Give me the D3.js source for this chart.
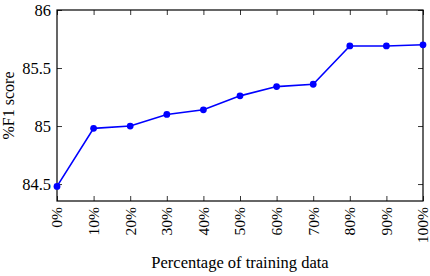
<!DOCTYPE html>
<html>
<head>
<meta charset="utf-8">
<script src="https://cdn.jsdelivr.net/npm/d3@7"></script>
<style>
  html, body { margin: 0; padding: 0; background: #fff; }
  svg { display: block; }
</style>
</head>
<body>
<div id="chart"></div>
<script>
// Data
const percentages = ['0%', '10%', '20%', '30%', '40%', '50%', '60%', '70%', '80%', '90%', '100%']
const f1Scores = [84.48, 84.98, 85.0, 85.1, 85.14, 85.26, 85.34, 85.36, 85.69, 85.69, 85.70]
const yTicks = [84.5, 85, 85.5, 86]

const width = 430
const height = 276
const margin = { top: 10, right: 7, bottom: 75, left: 57 }
const font = '"Liberation Serif","DejaVu Serif",serif'
const lineColor = '#0000ff'

const svg = d3.select('#chart').append('svg')
  .attr('width', width)
  .attr('height', height)

const x = d3.scalePoint()
  .domain(percentages)
  .range([margin.left, width - margin.right])

const y = d3.scaleLinear()
  .domain([84.354, 86])
  .range([height - margin.bottom, margin.top])

const tickLen = 5
const styleAxis = g => {
  g.select('.domain').remove()
  g.selectAll('.tick line').attr('stroke', '#000').attr('stroke-width', 0.8)
}

// Bottom axis, ticks pointing inward
svg.append('g')
  .attr('transform', `translate(0,${height - margin.bottom})`)
  .call(d3.axisBottom(x).tickSizeInner(-tickLen).tickSizeOuter(0).tickPadding(6))
  .call(styleAxis)
  .call(g => g.selectAll('.tick text')
    .attr('transform', 'rotate(-90)')
    .attr('text-anchor', 'end')
    .attr('dy', '0.32em')
    .attr('x', -6)
    .attr('y', 0)
    .attr('fill', '#000')
    .attr('font-size', '15.5px')
    .attr('font-family', font))

// Top axis ticks
svg.append('g')
  .attr('transform', `translate(0,${margin.top})`)
  .call(d3.axisTop(x).tickSizeInner(-tickLen).tickSizeOuter(0).tickFormat(''))
  .call(styleAxis)

// Left axis
svg.append('g')
  .attr('transform', `translate(${margin.left},0)`)
  .call(d3.axisLeft(y).tickValues(yTicks).tickSizeInner(-tickLen).tickSizeOuter(0)
    .tickPadding(6).tickFormat(d3.format('')))
  .call(styleAxis)
  .call(g => g.selectAll('.tick text')
    .attr('fill', '#000')
    .attr('font-size', '16.5px')
    .attr('font-family', font))

// Right axis ticks
svg.append('g')
  .attr('transform', `translate(${width - margin.right},0)`)
  .call(d3.axisRight(y).tickValues(yTicks).tickSizeInner(-tickLen).tickSizeOuter(0).tickFormat(''))
  .call(styleAxis)

// Frame
svg.append('rect')
  .attr('x', margin.left)
  .attr('y', margin.top)
  .attr('width', width - margin.left - margin.right)
  .attr('height', height - margin.top - margin.bottom)
  .attr('fill', 'none')
  .attr('stroke', '#000')
  .attr('stroke-width', 1.2)

// Line
const line = d3.line()
  .x((d, i) => x(percentages[i]))
  .y(d => y(d))

svg.append('path')
  .datum(f1Scores)
  .attr('d', line)
  .attr('fill', 'none')
  .attr('stroke', lineColor)
  .attr('stroke-width', 1.6)

svg.append('g')
  .selectAll('circle')
  .data(f1Scores)
  .join('circle')
  .attr('cx', (d, i) => x(percentages[i]))
  .attr('cy', d => y(d))
  .attr('r', 3.4)
  .attr('fill', lineColor)

// Axis labels
svg.append('text')
  .attr('x', (margin.left + width - margin.right) / 2)
  .attr('y', 268)
  .attr('text-anchor', 'middle')
  .attr('fill', '#000')
  .attr('font-size', '16.5px')
  .attr('font-family', font)
  .text('Percentage of training data')

svg.append('text')
  .attr('transform', `translate(14,${(margin.top + height - margin.bottom) / 2}) rotate(-90)`)
  .attr('text-anchor', 'middle')
  .attr('fill', '#000')
  .attr('font-size', '16px')
  .attr('font-family', font)
  .text('%F1 score')
</script>
</body>
</html>
